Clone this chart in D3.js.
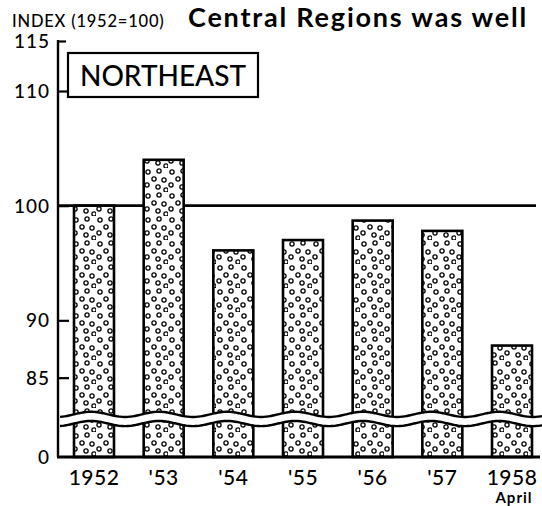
<!DOCTYPE html>
<html>
<head>
<meta charset="utf-8">
<script src="https://cdn.jsdelivr.net/npm/d3@7"></script>
<style>
  html, body { margin: 0; padding: 0; background: #fff; }
  svg { display: block; }
</style>
</head>
<body>
<svg id="chart" width="542" height="506"></svg>
<script>
// ---- data ----
const categories = ["1952", "'53", "'54", "'55", "'56", "'57", "1958"];
const values = [100, 104, 96.1, 97.0, 98.7, 97.8, 87.8];
const tickValues = [0, 85, 90, 100, 110, 115];
const tickLabels = ["0", "85", "90", "100", "110", "115"];
const title = "Central Regions was well";
const unitLabel = "INDEX (1952=100)";
const regionLabel = "NORTHEAST";
const subLabel = "April";

const svg = d3.select("#chart");
const axisX = 58;
const rightEnd = 540;

// broken scale: compressed 0..80 segment, linear upper segment
const y = d3.scaleLinear()
  .domain([0, 80, 110, 115])
  .range([457, 435, 91, 41]);

const x = d3.scaleBand()
  .domain(categories)
  .range([74, 532])
  .paddingInner(0.426)
  .paddingOuter(0);

// dot pattern
const defs = svg.append("defs");
const pat = defs.append("pattern")
  .attr("id", "dots")
  .attr("patternUnits", "userSpaceOnUse")
  .attr("width", 24).attr("height", 24);
pat.append("rect").attr("width", 24).attr("height", 24).attr("fill", "#fff");
[[4,4],[15,3],[10,11],[20,12],[3,17],[14,19],[22,22]].forEach(([cx, cy]) => {
  pat.append("circle").attr("cx", cx).attr("cy", cy).attr("r", 2.1)
    .attr("fill", "none").attr("stroke", "#000").attr("stroke-width", 1.3);
});

// 100 reference line
svg.append("line")
  .attr("x1", axisX).attr("x2", 536)
  .attr("y1", y(100)).attr("y2", y(100))
  .attr("stroke", "#000").attr("stroke-width", 2.6);

// bars
svg.selectAll("rect.bar")
  .data(values)
  .join("rect")
  .attr("class", "bar")
  .attr("x", (d, i) => x(categories[i]))
  .attr("width", x.bandwidth())
  .attr("y", d => y(d))
  .attr("height", d => y(0) - y(d))
  .attr("fill", "url(#dots)")
  .attr("stroke", "#000")
  .attr("stroke-width", 2.6);

// axis break (wavy double line)
const upperY = y(81.8), lowerY = y(81.0);
const wave = (base, phase) => d3.range(60, 543, 2).map(px => [px, base + 2.6 * Math.sin((px - 40 + phase) / 68 * 2 * Math.PI)]);
const up = wave(upperY, 0), lo = wave(lowerY, 0);
svg.append("path")
  .attr("d", d3.line()(up.concat(lo.slice().reverse())) + "Z")
  .attr("fill", "#fff");
[up, lo].forEach(pts => {
  svg.append("path").attr("d", d3.line().curve(d3.curveBasis)(pts))
    .attr("fill", "none").attr("stroke", "#000").attr("stroke-width", 2.4);
});

// y axis
const yAxis = d3.axisRight(y)
  .tickValues(tickValues.filter(v => v !== 0))
  .tickSize(11)
  .tickFormat("");
const gy = svg.append("g").attr("transform", `translate(${axisX},0)`).call(yAxis);
gy.select(".domain").remove();
gy.selectAll(".tick line").attr("stroke", "#000").attr("stroke-width", 2.2);
gy.selectAll(".tick").filter(d => d === 115).select("line").attr("x2", 8);
svg.append("line")
  .attr("x1", axisX).attr("x2", axisX)
  .attr("y1", y(115) - 1).attr("y2", y(0))
  .attr("stroke", "#000").attr("stroke-width", 2.4);

// y labels
svg.selectAll("text.ylab")
  .data(tickValues)
  .join("text")
  .attr("class", "ylab")
  .attr("x", 50)
  .attr("y", d => y(d))
  .attr("dy", "0.36em")
  .attr("text-anchor", "end")
  .attr("font-family", "Lato, 'DejaVu Sans', sans-serif")
  .attr("font-size", 19)
  .attr("font-weight", 500)
  .attr("letter-spacing", 1)
  .attr("fill", "#000")
  .text((d, i) => tickLabels[i]);

// baseline
svg.append("line")
  .attr("x1", axisX - 1).attr("x2", rightEnd)
  .attr("y1", y(0)).attr("y2", y(0))
  .attr("stroke", "#000").attr("stroke-width", 3);

// x labels
const xAxis = d3.axisBottom(x).tickSize(0).tickPadding(0);
const gx = svg.append("g").attr("transform", `translate(0,${y(0) + 28})`).call(xAxis);
gx.select(".domain").remove();
gx.selectAll("text")
  .attr("dy", 0)
  .attr("font-family", "Lato, 'DejaVu Sans', sans-serif")
  .attr("font-size", 21)
  .attr("font-weight", 500)
  .attr("letter-spacing", 0.5)
  .attr("fill", "#000");

svg.append("text")
  .attr("x", x("1958") + x.bandwidth() / 2 + 2)
  .attr("y", 503)
  .attr("text-anchor", "middle")
  .attr("font-family", "Lato, 'DejaVu Sans', sans-serif")
  .attr("font-weight", "bold")
  .attr("font-size", 15)
  .attr("letter-spacing", 1)
  .text(subLabel);

// unit label
svg.append("text")
  .attr("x", 12).attr("y", 27)
  .attr("font-family", "Lato, 'DejaVu Sans', sans-serif")
  .attr("font-size", 16.5)
  .attr("font-weight", 500)
  .attr("letter-spacing", 0.8)
  .text(unitLabel);

// title
svg.append("text")
  .attr("x", 188).attr("y", 27)
  .attr("font-family", "Lato, 'DejaVu Sans', sans-serif")
  .attr("font-weight", "bold")
  .attr("font-size", 27)
  .attr("letter-spacing", 1.8)
  .text(title);

// region box
svg.append("rect")
  .attr("x", 68).attr("y", 53)
  .attr("width", 190).attr("height", 44)
  .attr("fill", "#fff").attr("stroke", "#000").attr("stroke-width", 2.2);
svg.append("text")
  .attr("x", 163).attr("y", 86)
  .attr("text-anchor", "middle")
  .attr("font-family", "Lato, 'DejaVu Sans', sans-serif")
  .attr("font-weight", 500)
  .attr("font-size", 28)
  .text(regionLabel);
</script>
</body>
</html>
